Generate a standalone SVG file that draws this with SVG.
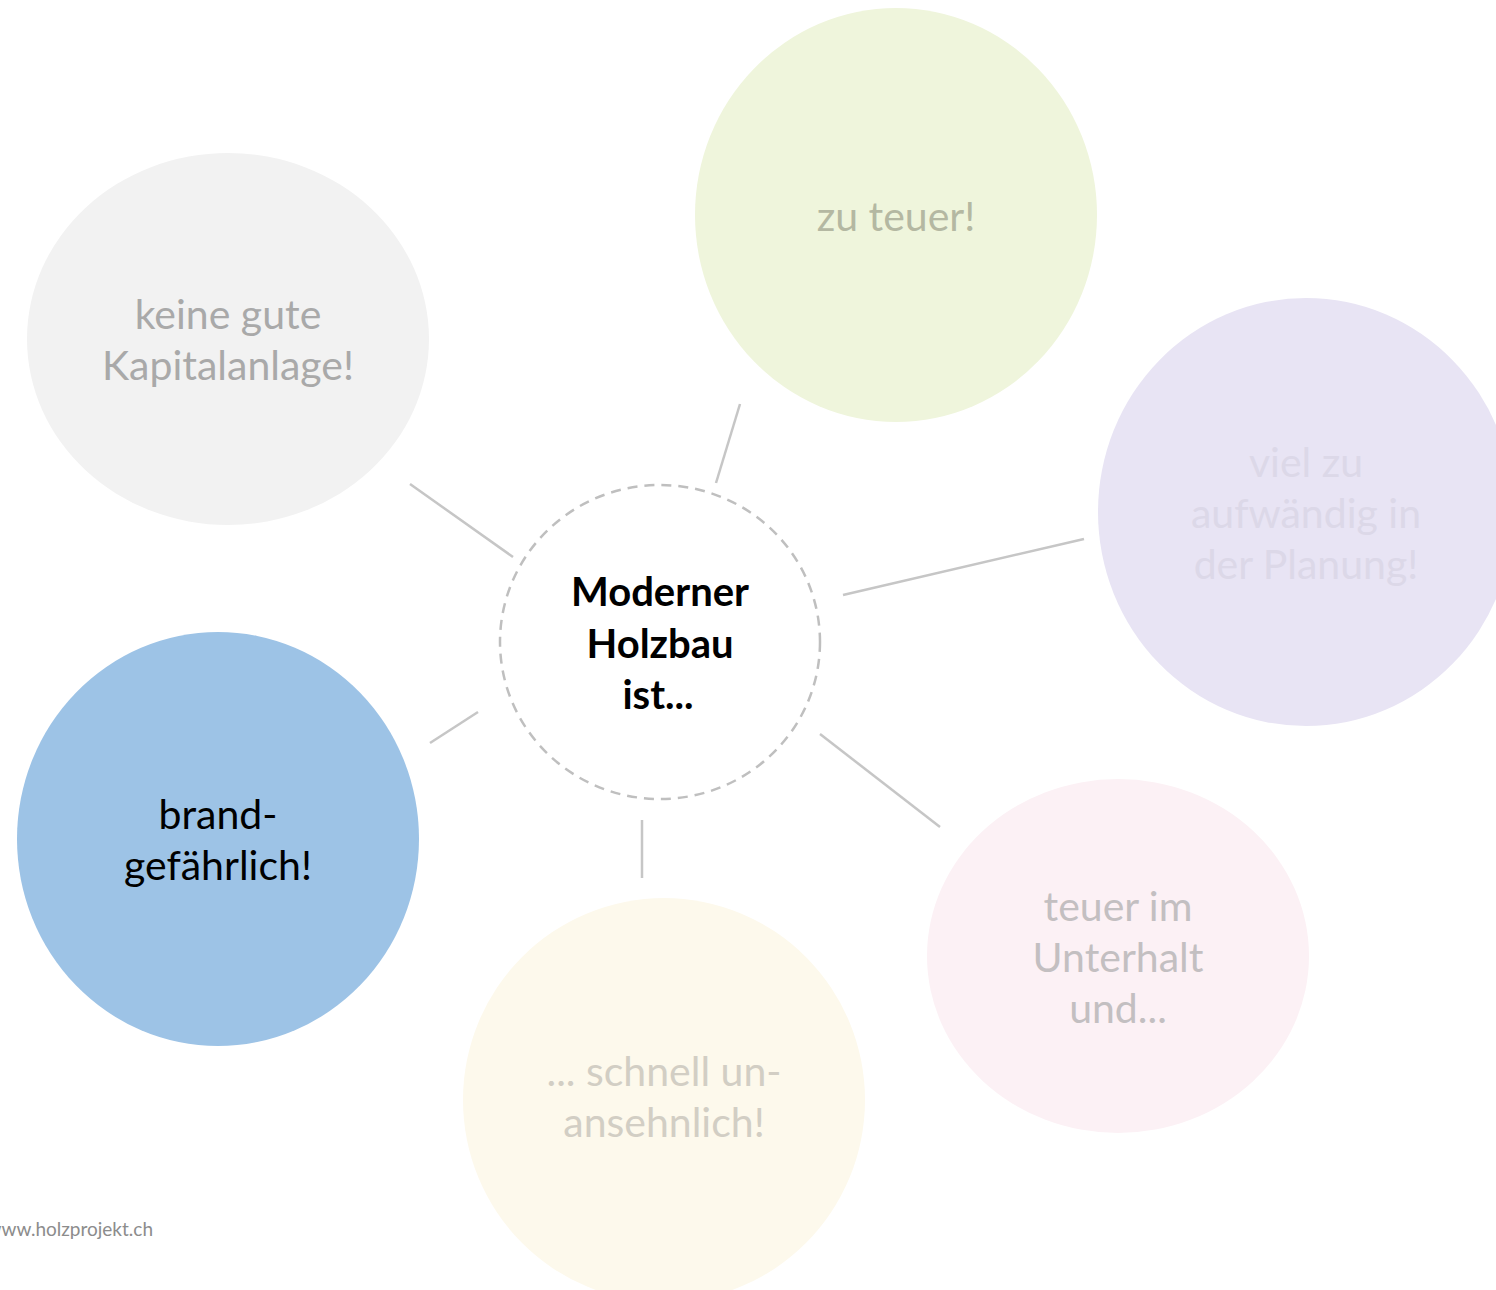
<svg xmlns="http://www.w3.org/2000/svg" width="1496" height="1290" viewBox="0 0 1496 1290">
<style>
text{font-family:Lato,"Open Sans","Liberation Sans",sans-serif;text-anchor:middle}
.t{font-size:41px}
.c{font-size:40px;font-weight:bold;fill:#000}
.ln{stroke:#c6c6c6;stroke-width:2.5;fill:none}
</style>
<rect width="1496" height="1290" fill="#fff"/>
<g id="connectors">
<line class="ln" x1="410" y1="484" x2="513" y2="557"/>
<line class="ln" x1="740" y1="404" x2="716" y2="483"/>
<line class="ln" x1="843" y1="595" x2="1084" y2="539"/>
<line class="ln" x1="820" y1="734" x2="940" y2="827"/>
<line class="ln" x1="642" y1="820" x2="642" y2="878"/>
<line class="ln" x1="478" y1="712" x2="430" y2="743"/>
</g>
<g id="kapital">
<ellipse cx="228" cy="339" rx="201" ry="186" fill="#f2f2f2"/>
<text class="t" x="228" y="329" fill="#a9a9a9">keine gute</text>
<text class="t" x="228" y="380" fill="#a9a9a9">Kapitalanlage!</text>
</g>
<g id="teuer">
<ellipse cx="896" cy="215" rx="201" ry="207" fill="#eff5dc"/>
<text class="t" x="896" y="231" fill="#b4b8a2">zu teuer!</text>
</g>
<g id="planung">
<ellipse cx="1306" cy="512" rx="208" ry="214" fill="#e8e4f4"/>
<text class="t" x="1306" y="477" fill="#dcd8e8">viel zu</text>
<text class="t" x="1306" y="528" fill="#dcd8e8">aufwändig in</text>
<text class="t" x="1306" y="579" fill="#dcd8e8">der Planung!</text>
</g>
<g id="brand">
<ellipse cx="218" cy="839" rx="201" ry="207" fill="#9dc3e6"/>
<text class="t" x="218" y="829" fill="#000">brand-</text>
<text class="t" x="218" y="880" fill="#000">gefährlich!</text>
</g>
<g id="unansehnlich">
<ellipse cx="664" cy="1100" rx="201" ry="202" fill="#fdf9ec"/>
<text class="t" x="664" y="1086" fill="#d2cec4">... schnell un-</text>
<text class="t" x="664" y="1137" fill="#d2cec4">ansehnlich!</text>
</g>
<g id="unterhalt">
<ellipse cx="1118" cy="956" rx="191" ry="177" fill="#fcf1f5"/>
<text class="t" x="1118" y="921" fill="#c3bfc1">teuer im</text>
<text class="t" x="1118" y="972" fill="#c3bfc1">Unterhalt</text>
<text class="t" x="1118" y="1023" fill="#c3bfc1">und...</text>
</g>
<g id="center">
<ellipse cx="660" cy="642" rx="160" ry="157" fill="#fff" stroke="#bfbfbf" stroke-width="2.5" stroke-dasharray="10 7"/>
<text class="c" x="660" y="606">Moderner</text>
<text class="c" x="660" y="658">Holzbau</text>
<text class="c" x="658" y="709">ist...</text>
</g>
<text x="153" y="1236" font-size="19" fill="#8c8c8c" style="text-anchor:end">www.holzprojekt.ch</text>
</svg>
